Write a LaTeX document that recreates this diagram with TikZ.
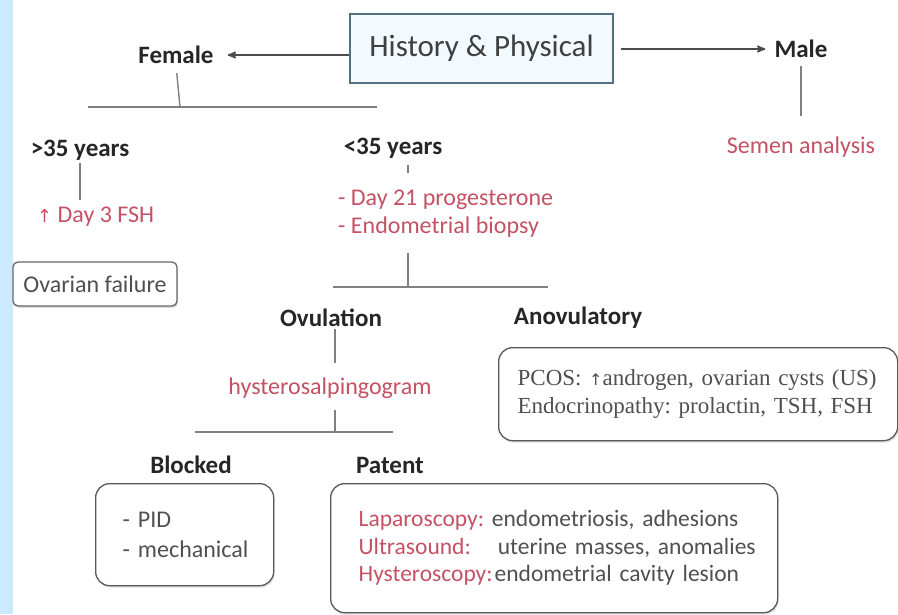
\documentclass[tikz,border=0pt]{standalone}
\usepackage{fontspec}
\setmainfont{Carlito}
\newfontfamily\timesfont{Liberation Serif}
\newfontfamily\arrowfont{DejaVu Sans}
\usepackage{tikz}
\usetikzlibrary{arrows,shadows}
\definecolor{barblue}{RGB}{204,234,255}
\definecolor{hpfill}{RGB}{242,249,255}
\definecolor{hpdraw}{RGB}{84,112,130}
\definecolor{notered}{RGB}{196,82,100}
\definecolor{inkgray}{RGB}{80,80,80}
\frenchspacing

\begin{document}
\begin{tikzpicture}[x=1pt,y=-1pt,>=stealth',
  hp node/.style={draw=hpdraw,fill=hpfill,line width=1.6pt,minimum width=263pt,minimum height=69pt,
    font=\fontsize{31}{36}\selectfont,text=black!75},
  head node/.style={font=\fontsize{25}{29}\selectfont\bfseries,text=black!85,inner sep=1pt},
  test node/.style={font=\fontsize{24}{28}\selectfont,text=notered,align=left,inner sep=1pt},
  soft shadow/.style={drop shadow={opacity=0.25,shadow xshift=1pt,shadow yshift=-2pt}},
  list box/.style={draw=black!65,fill=white,line width=1.3pt,rounded corners=14pt,anchor=north west,
    align=left,text=inkgray,inner ysep=0pt,soft shadow},
  line/.style={draw=black!50,line width=1.4pt},
  arrow line/.style={draw=black!70,line width=1.8pt,->}]
  % page and side bar
  \useasboundingbox (0,0) rectangle (898,614);
  \fill[white] (0,0) rectangle (898,614);
  \fill[barblue] (0,0) rectangle (13,614);

  \node[hp node] (hp) at (481.5,48.5) {History \& Physical};
  \node[head node] (female) at (176,55) {Female};
  \node[head node] (male) at (801,49) {Male};
  \node[test node] (semen) at (801,147) {Semen analysis};

  \node[head node] (over35) at (80,150) {>35 years};
  \node[head node] (under35) at (393,148) {<35 years};
  \node[test node,anchor=west] (fsh) at (36,217) {{\arrowfont\fontsize{18}{20}\selectfont ↑} Day 3 FSH};
  \node[draw=black!60,fill=white,line width=1.3pt,rounded corners=5pt,minimum width=164pt,minimum height=44pt,
    font=\fontsize{24}{28}\selectfont,text=inkgray,soft shadow] (ovfail) at (95,284) {Ovarian failure};
  \node[test node,anchor=west] (tests) at (337,214) {- Day 21 progesterone\\- Endometrial biopsy};

  \node[head node] (ovul) at (331,318) {Ovulation};
  \node[head node] (anov) at (578,318) {Anovulatory};
  \node[test node] (hsg) at (330,388) {hysterosalpingogram};
  \node[list box,minimum width=399pt,minimum height=93pt,inner xsep=19pt,text width=361pt,
    font=\timesfont\fontsize{23}{28}\selectfont] (anovbox) at (498,347)
    {\mbox{PCOS: {\arrowfont\fontsize{16}{20}\selectfont ↑}androgen, ovarian cysts (US)}\\
     \mbox{Endocrinopathy: prolactin, TSH, FSH}};

  \node[head node] (blocked) at (191,465) {Blocked};
  \node[head node] (patent) at (390,465) {Patent};
  \node[list box,minimum width=178pt,minimum height=102pt,inner xsep=27pt,text width=124pt,
    font=\fontsize{24}{30}\selectfont] (blockbox) at (95,483) {\mbox{- PID}\\\mbox{- mechanical}};
  \node[list box,minimum width=447pt,minimum height=129pt,inner xsep=28pt,text width=391pt,
    font=\fontsize{23.5}{27.5}\selectfont] (patbox) at (330,483)
    {\mbox{{\color{notered}Laparoscopy:} endometriosis, adhesions}\\
     \mbox{{\color{notered}Ultrasound:}\hspace{27pt}uterine masses, anomalies}\\
     \mbox{{\color{notered}Hysteroscopy:}\hspace{2pt}endometrial cavity lesion}};

  % bracket ends
  \coordinate (femjoin) at (180,107);
  \coordinate (femleft) at (88,107);
  \coordinate (femright) at (377,107);
  \coordinate (o35end) at (80,200);
  \coordinate (u35top) at (408,165);
  \coordinate (u35end) at (408,173);
  \coordinate (testjoin) at (408,287);
  \coordinate (testleft) at (333,287);
  \coordinate (testright) at (548,287);
  \coordinate (ovjoin) at (335,363);
  \coordinate (hsgjoin) at (335,432);
  \coordinate (hsgleft) at (195,432);
  \coordinate (hsgright) at (393,432);

  \draw[arrow line,shorten >=13pt] (hp.west |- female.east) -- (female.east);
  \draw[arrow line,shorten <=7pt,shorten >=8pt] (hp.east |- male.west) -- (male.west);
  \path[line]
    (male.south) edge [shorten <=7pt,shorten >=20pt] (semen.north)
    (female.south) edge [shorten <=8pt] (femjoin)
    (femleft) edge (femright)
    (over35.south) edge [shorten <=2pt] (o35end)
    (u35top) edge (u35end)
    (tests.south -| testjoin) edge [shorten <=14pt] (testjoin)
    (testleft) edge (testright)
    (ovul.south -| ovjoin) edge [shorten <=1pt] (ovjoin)
    (hsg.south -| hsgjoin) edge [shorten <=10pt] (hsgjoin)
    (hsgleft) edge (hsgright);
\end{tikzpicture}
\end{document}
